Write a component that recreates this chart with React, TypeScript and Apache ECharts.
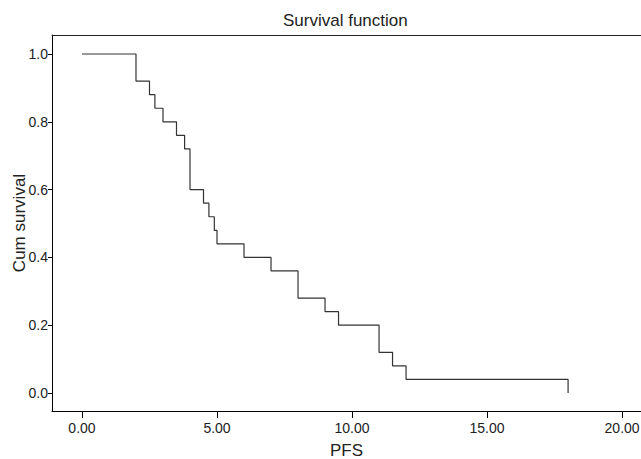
import React, { useEffect, useRef } from "react";
import * as echarts from "echarts";

// Kaplan-Meier estimate (PFS, cumulative survival)
const times = [0, 2, 2.5, 2.7, 3, 3.5, 3.8, 4, 4.5, 4.7, 4.9, 5, 6, 7, 8, 9, 9.5, 11, 11.5, 12, 18];
const survival = [1, 0.92, 0.88, 0.84, 0.8, 0.76, 0.72, 0.6, 0.56, 0.52, 0.48, 0.44, 0.4, 0.36, 0.28, 0.24, 0.2, 0.12, 0.08, 0.04, 0];
const xTicks = [0, 5, 10, 15, 20];
const yTicks = [0, 0.2, 0.4, 0.6, 0.8, 1.0];
const titleText = "Survival function";
const xName = "PFS";
const yName = "Cum survival";

const FONT = "'Liberation Sans', Arial, Helvetica, sans-serif";

export default function App() {
  const ref = useRef<HTMLDivElement>(null);
  useEffect(() => {
    if (!ref.current) return;
    const chart = echarts.init(ref.current, null, { renderer: "svg" });
    const data = times.map((t, i) => [t, survival[i]]);
    const xMin = -1.11;
    const xMax = 20.7;
    chart.setOption({
      animation: false,
      backgroundColor: "#ffffff",
      textStyle: { fontFamily: FONT },
      title: {
        text: titleText,
        left: 283,
        top: 12,
        padding: 0,
        textStyle: { fontFamily: FONT, fontSize: 17, fontWeight: "normal", color: "#222" },
      },
      grid: { left: 52, top: 35, right: 0, bottom: 48, containLabel: false, outerBoundsMode: "none" },
      xAxis: [
        {
          type: "value",
          min: xMin,
          max: xMax,
          name: xName,
          nameLocation: "middle",
          nameGap: 31,
          nameMoveOverlap: false,
          nameTextStyle: { fontFamily: FONT, fontSize: 17, color: "#222" },
          axisLine: { show: true, onZero: false, lineStyle: { color: "#000", width: 1 } },
          axisTick: { show: true, length: 7, customValues: xTicks, lineStyle: { color: "#000" } },
          axisLabel: {
            customValues: xTicks,
            formatter: (v: number) => v.toFixed(2),
            fontFamily: FONT,
            fontSize: 14,
            color: "#222",
            margin: 10,
            hideOverlap: false,
          },
          splitLine: { show: false },
        },
        {
          type: "value",
          position: "top",
          min: xMin,
          max: xMax,
          axisLine: { show: true, onZero: false, lineStyle: { color: "#222", width: 1 } },
          axisTick: { show: false },
          axisLabel: { show: false },
          splitLine: { show: false },
        },
      ],
      yAxis: {
        type: "value",
        min: -0.053,
        max: 1.056,
        name: yName,
        nameLocation: "middle",
        nameGap: 24,
        nameMoveOverlap: false,
        nameTextStyle: { fontFamily: FONT, fontSize: 17, color: "#222" },
        axisLine: { show: true, onZero: false, lineStyle: { color: "#000", width: 1 } },
        axisTick: { show: true, length: 4, customValues: yTicks, lineStyle: { color: "#000" } },
        axisLabel: {
          customValues: yTicks,
          formatter: (v: number) => v.toFixed(1),
          fontFamily: FONT,
          fontSize: 14,
          color: "#222",
          margin: 4,
        },
        splitLine: { show: false },
      },
      series: [
        {
          type: "line",
          step: "end",
          data,
          showSymbol: false,
          symbol: "none",
          lineStyle: { color: "#333", width: 1.2 },
          xAxisIndex: 0,
        },
      ],
    });
    return () => chart.dispose();
  }, []);
  return (
    <div
      ref={ref}
      style={{ position: "fixed", left: 0, top: 0, width: 641, height: 459 }}
    />
  );
}
